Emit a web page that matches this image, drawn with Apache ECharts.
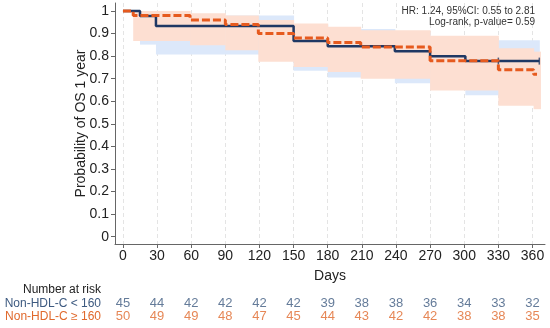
<!DOCTYPE html>
<html><head><meta charset="utf-8">
<script src="https://cdn.jsdelivr.net/npm/echarts@6/dist/echarts.min.js"></script>
<style>html,body{margin:0;padding:0;background:#fff}#c{width:550px;height:328px}</style>
</head><body><div id="c"></div>
<script>
// ---- data ----
const xTicks = [0, 30, 60, 90, 120, 150, 180, 210, 240, 270, 300, 330, 360];
const yTicks = [0, 0.1, 0.2, 0.3, 0.4, 0.5, 0.6, 0.7, 0.8, 0.9, 1];

const groupNames = ['Non-HDL-C < 160', 'Non-HDL-C \u2265 160'];

// KM curve, Non-HDL-C < 160
const lowTimes = [0, 15, 29, 150, 180, 239, 270, 301, 366];
const lowSurv  = [1, 0.978, 0.933, 0.867, 0.844, 0.822, 0.800, 0.778, 0.778];
// 95% CI band, Non-HDL-C < 160
const lowBandTimes = [15, 29, 150, 180, 239, 270, 301, 366];
const lowBandLower = [0.851, 0.807, 0.735, 0.705, 0.68, 0.655, 0.627, 0.627];
const lowBandUpper = [1.0, 0.98, 0.94, 0.92, 0.905, 0.885, 0.87, 0.87];
// censor marks, Non-HDL-C < 160
const lowCensorTimes = [330, 366];
const lowCensorSurv  = [0.778, 0.778];

// KM curve, Non-HDL-C >= 160
const highTimes = [0, 9, 59, 90, 119, 150, 180, 209, 270, 330, 361, 364];
const highSurv  = [1, 0.98, 0.96, 0.94, 0.90, 0.88, 0.86, 0.84, 0.78, 0.74, 0.72, 0.72];
// 95% CI band, Non-HDL-C >= 160
const highBandTimes = [9, 59, 90, 119, 150, 180, 209, 270, 330, 361, 367];
const highBandLower = [0.867, 0.848, 0.826, 0.775, 0.752, 0.73, 0.70, 0.648, 0.58, 0.565, 0.565];
const highBandUpper = [1.0, 0.99, 0.98, 0.96, 0.945, 0.93, 0.915, 0.89, 0.835, 0.82, 0.82];

// number at risk
const riskDays = [0, 30, 60, 90, 120, 150, 180, 210, 240, 270, 300, 330, 360];
const riskLow  = [45, 44, 42, 42, 42, 42, 39, 38, 38, 36, 34, 33, 32];
const riskHigh = [50, 49, 49, 48, 47, 45, 44, 43, 42, 42, 38, 38, 35];

const statText1 = 'HR: 1.24, 95%CI: 0.55 to 2.81';
const statText2 = 'Log-rank, p-value= 0.59';

// ---- styling ----
const FONT = 'Liberation Sans, Arial, sans-serif';
const navy = '#1f3864';
const orange = '#e65a1e';
const blueBand = '#dce8fa';
const pinkBand = '#fddfd2';
const navyText = '#3d5a80';
const orangeText = '#e0692c';

const zip = (a, b) => a.map((v, i) => [v, b[i]]);
// band intervals: [start, end, lower, upper]
const bandRows = (t, lo, up) => t.slice(0, -1).map((v, i) => [v, t[i + 1], lo[i], up[i]]);

function bandSeries(rows, color, z) {
  return {
    type: 'custom', data: rows, silent: true, z: z,
    encode: {x: [0, 1], y: [2, 3]},
    renderItem: (params, api) => {
      const p0 = api.coord([api.value(0), api.value(3)]);
      const p1 = api.coord([api.value(1), api.value(2)]);
      return {
        type: 'rect',
        shape: {x: p0[0], y: p0[1], width: p1[0] - p0[0] + 0.5, height: p1[1] - p0[1]},
        style: {fill: color}
      };
    }
  };
}

const chart = echarts.init(document.getElementById('c'), null, {renderer: 'canvas'});
chart.setOption({
  animation: false,
  textStyle: {fontFamily: FONT},
  grid: [
    {left: 115, right: 5, top: 3, bottom: 84, containLabel: false},
    {left: 115, right: 5, top: 296.6, height: 26.8, containLabel: false}
  ],
  xAxis: [
    {
      type: 'value', gridIndex: 0, min: -7, max: 371,
      name: 'Days', nameLocation: 'middle', nameGap: 25, nameMoveOverlap: false,
      nameTextStyle: {fontSize: 14, color: '#222', fontFamily: FONT},
      axisLine: {show: true, onZero: false, lineStyle: {color: '#666', width: 1}},
      axisTick: {show: true, length: 4, customValues: xTicks, lineStyle: {color: '#666'}},
      axisLabel: {customValues: xTicks, fontSize: 14, color: '#222', margin: 5, fontFamily: FONT},
      splitLine: {show: true, lineStyle: {color: '#e4e4e4', type: [4, 3], width: 1}}
    },
    {
      type: 'value', gridIndex: 1, min: -7, max: 371, show: false
    }
  ],
  yAxis: [
    {
      type: 'value', gridIndex: 0, min: -0.0323, max: 1.0354,
      name: 'Probability of OS 1 year', nameLocation: 'middle', nameGap: 27, nameRotate: 90,
      nameMoveOverlap: false,
      nameTextStyle: {fontSize: 14, color: '#222', fontFamily: FONT},
      axisLine: {show: true, onZero: false, lineStyle: {color: '#666', width: 1}},
      axisTick: {show: true, length: 4, customValues: yTicks, lineStyle: {color: '#666'}},
      axisLabel: {customValues: yTicks, fontSize: 14, color: '#222', margin: 6, fontFamily: FONT,
        formatter: v => String(Math.round(v * 10) / 10)},
      splitLine: {show: false}
    },
    {
      type: 'category', gridIndex: 1, data: groupNames, inverse: true,
      axisLine: {show: false}, axisTick: {show: false}, splitLine: {show: false},
      axisLabel: {fontSize: 12, margin: 14, fontFamily: FONT, interval: 0, hideOverlap: false,
        color: (v, i) => (i === 0 ? navyText : orangeText)}
    }
  ],
  graphic: [
    {type: 'text', x: 535, y: 6, z: 10, style: {text: statText1, fill: '#333', font: '10px ' + FONT, textAlign: 'right', textVerticalAlign: 'top'}},
    {type: 'text', x: 535, y: 17, z: 10, style: {text: statText2, fill: '#333', font: '10px ' + FONT, textAlign: 'right', textVerticalAlign: 'top'}},
    {type: 'text', left: 23, top: 284, style: {text: 'Number at risk', font: '12px ' + FONT, fill: '#222'}}
  ],
  series: [
    bandSeries(bandRows(lowBandTimes, lowBandLower, lowBandUpper), blueBand, 1),
    bandSeries(bandRows(highBandTimes, highBandLower, highBandUpper), pinkBand, 2),
    {type: 'line', name: groupNames[0], data: zip(lowTimes, lowSurv), step: 'end', symbol: 'none',
      lineStyle: {color: navy, width: 2.5}, z: 3},
    {type: 'scatter', data: zip(lowCensorTimes, lowCensorSurv), symbol: 'rect', symbolSize: [1.5, 7],
      itemStyle: {color: navy}, z: 3},
    {type: 'line', name: groupNames[1], data: zip(highTimes, highSurv), step: 'end', symbol: 'none',
      lineStyle: {color: orange, width: 3, type: [8, 3]}, z: 4},
    {type: 'scatter', xAxisIndex: 1, yAxisIndex: 1, symbolSize: 0,
      data: riskDays.map((d, i) => [d, 0, riskLow[i]]),
      label: {show: true, position: 'inside', formatter: p => p.value[2], fontSize: 13, color: navyText, fontFamily: FONT}},
    {type: 'scatter', xAxisIndex: 1, yAxisIndex: 1, symbolSize: 0,
      data: riskDays.map((d, i) => [d, 1, riskHigh[i]]),
      label: {show: true, position: 'inside', formatter: p => p.value[2], fontSize: 13, color: orangeText, fontFamily: FONT}}
  ]
});
</script></body></html>
